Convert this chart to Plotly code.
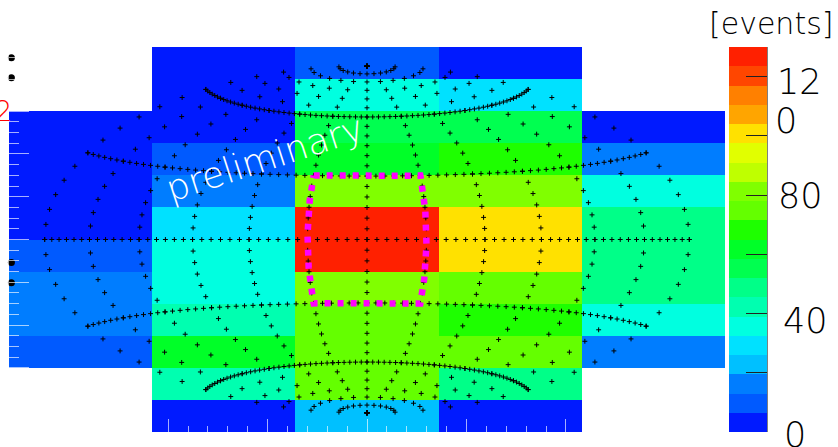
import numpy as np
import plotly.graph_objects as go

# ---------------------------------------------------------------- canvas
W, H = 838, 447
L, R, T, B = 9, 113, 47, 15
PW, PH = W - L - R, H - T - B

FONT = "DejaVu Sans"

# ---------------------------------------------------------------- binning
lon_edges = [-180, -108, -36, 36, 108, 180]
lat_edges = list(range(-90, 91, 15))

# events per latitude bin, listed south -> north; None marks an empty bin
events_lon1 = [None, None, 11, 17, 16, 10, 6, 3, 5, 4, None, None]
events_lon2 = [4, 43, 61, 42, 37, 36, 30, 17, 11, 5, 4, 2]
events_lon3 = [23, 76, 74, 75, 82, 125, 124, 81, 62, 55, 37, 10]
events_lon4 = [2, 48, 74, 67, 73, 101, 100, 83, 68, 56, 30, 3]
events_lon5 = [None, None, 16, 35, 47, 48, 49, 36, 17, 5, None, None]

z_min, z_max = 0, 130
n_levels = 20
cbar_ticks = [0, 20, 40, 60, 80, 100, 120]
cbar_labels = ["0", "40", "80", "0", "12"]
cbar_label_pos = [(795, 435), (805, 321), (800.5, 196), (785.5, 120.5), (799, 81.5)]

band_colors = [
    "#001aff", "#005aff", "#007dff", "#00c0ff", "#00e1ff",
    "#00ffe0", "#00ffb0", "#00ff88", "#00ff50", "#00ff28",
    "#1eff00", "#64ff00", "#80ff00", "#bfff00", "#e1ff00",
    "#ffe100", "#ffa500", "#ff8000", "#ff4600", "#ff2000",
]

# graticule of the Hammer projection
parallels = [-60, -30, 0, 30, 60]
meridians = list(range(-180, 181, 30))
graticule_step = 5

# highlighted region (lon / lat limits)
region_lon = [-30, 30]
region_lat = [-30, 30]

# stray markers near the left edge
side_dot_x = [-178.8, -178.8, -178.8, -178.8]
side_dot_y = [85.0, 75.6, -10.8, -20.2]


def hammer(lon, lat):
    """Hammer-Aitoff projection, output in degree-like units."""
    lam = np.radians(np.asarray(lon, dtype=float))
    phi = np.radians(np.asarray(lat, dtype=float))
    d = np.sqrt(1.0 + np.cos(phi) * np.cos(lam / 2.0))
    k = np.degrees(1.0)
    x = 2.0 * np.sqrt(2.0) * np.cos(phi) * np.sin(lam / 2.0) / d * k
    y = np.sqrt(2.0) * np.sin(phi) / d * k
    return x, y


def px(x):
    return (x - L) / PW


def py(y):
    return (H - B - y) / PH


columns = [events_lon1, events_lon2, events_lon3, events_lon4, events_lon5]
z = [[col[i] for col in columns] for i in range(len(lat_edges) - 1)]

colorscale = []
for k, c in enumerate(band_colors):
    colorscale += [[k / n_levels, c], [(k + 1) / n_levels, c]]

fig = go.Figure()

fig.add_trace(go.Heatmap(
    x=lon_edges, y=lat_edges, z=z,
    zmin=z_min, zmax=z_max, colorscale=colorscale,
    zsmooth=False, hoverinfo="skip",
    colorbar=dict(
        thickness=38, thicknessmode="pixels",
        len=385, lenmode="pixels",
        x=px(729), xanchor="left", y=1, yanchor="top",
        xpad=0, ypad=0, outlinewidth=0,
        ticks="inside", ticklen=21, tickwidth=1.2, tickcolor="#222222",
        tickmode="array", tickvals=cbar_ticks, showticklabels=False,
    ),
))

# graticule dots
gx, gy = [], []
for lat in parallels:
    lons = np.arange(-180, 181, graticule_step)
    x, y = hammer(lons, np.full(lons.shape, lat))
    gx += list(x); gy += list(y)
for lon in meridians:
    lats = np.arange(-90, 91, graticule_step)
    x, y = hammer(np.full(lats.shape, lon), lats)
    gx += list(x); gy += list(y)

fig.add_trace(go.Scatter(
    x=gx, y=gy, mode="markers", hoverinfo="skip",
    marker=dict(symbol="cross-thin", size=3.5, color="black",
                line=dict(width=1, color="black")),
))

# highlighted lon/lat box
lo0, lo1 = region_lon
la0, la1 = region_lat
t = np.arange(0, 61, 1) / 60.0
box_lon = np.concatenate([lo0 + (lo1 - lo0) * t, np.full(t.shape, lo1),
                          lo1 - (lo1 - lo0) * t, np.full(t.shape, lo0)])
box_lat = np.concatenate([np.full(t.shape, la1), la1 - (la1 - la0) * t,
                          np.full(t.shape, la0), la0 + (la1 - la0) * t])
bx, by = hammer(box_lon, box_lat)
fig.add_trace(go.Scatter(
    x=bx, y=by, mode="lines", hoverinfo="skip",
    line=dict(color="#ff00ff", width=6.5, dash="6px,7px"),
))

fig.add_trace(go.Scatter(
    x=side_dot_x, y=side_dot_y, mode="markers", hoverinfo="skip",
    cliponaxis=False,
    marker=dict(symbol="circle", size=7, color="black"),
))

tick_col = "rgba(255,255,255,0.65)"
fig.update_xaxes(
    range=[-180, 180], showgrid=False, zeroline=False, showticklabels=False,
    showline=True, linecolor=tick_col, linewidth=1,
    ticks="inside", ticklen=13, tickwidth=1.3, tickcolor=tick_col,
    tick0=0, dtick=50,
    minor=dict(ticks="inside", ticklen=6, tickwidth=1.3, tickcolor=tick_col,
               tick0=0, dtick=10),
)
fig.update_yaxes(
    range=[-90, 90], showgrid=False, zeroline=False, showticklabels=False,
    showline=True, linecolor=tick_col, linewidth=1,
    ticks="inside", ticklen=20, tickwidth=1.3, tickcolor=tick_col,
    tick0=0, dtick=20,
    minor=dict(ticks="inside", ticklen=10, tickwidth=1.3, tickcolor=tick_col,
               tick0=0, dtick=5),
)

annotations = []
for txt, (ax_, ay_) in zip(cbar_labels, cbar_label_pos):
    annotations.append(dict(
        text=txt, x=px(ax_), y=py(ay_), xref="paper", yref="paper",
        xanchor="center", yanchor="middle", showarrow=False,
        font=dict(family=FONT, size=35, color="black", weight=200),
    ))
annotations.append(dict(
    text="[events]", x=px(771), y=py(23.5), xref="paper", yref="paper",
    xanchor="center", yanchor="middle", showarrow=False,
    font=dict(family=FONT, size=30, color="black", weight=200),
))
annotations.append(dict(
    text="preliminary", x=px(264), y=py(158), xref="paper", yref="paper",
    xanchor="center", yanchor="middle", showarrow=False, textangle=-18,
    font=dict(family=FONT, size=36, color="white", weight=200),
))
annotations.append(dict(
    text="2", x=px(14), y=py(110.5), xref="paper", yref="paper",
    xanchor="right", yanchor="middle", showarrow=False,
    font=dict(family=FONT, size=29, color="red", weight=200),
))

fig.add_shape(type="line", xref="paper", yref="paper",
              x0=px(767), x1=px(767), y0=py(47), y1=py(432),
              line=dict(color="#555555", width=1.5))

fig.update_layout(
    width=W, height=H,
    margin=dict(l=L, r=R, t=T, b=B, pad=0),
    paper_bgcolor="white", plot_bgcolor="white",
    showlegend=False,
    annotations=annotations,
)

fig.write_html("out.html", config={"displayModeBar": False})
